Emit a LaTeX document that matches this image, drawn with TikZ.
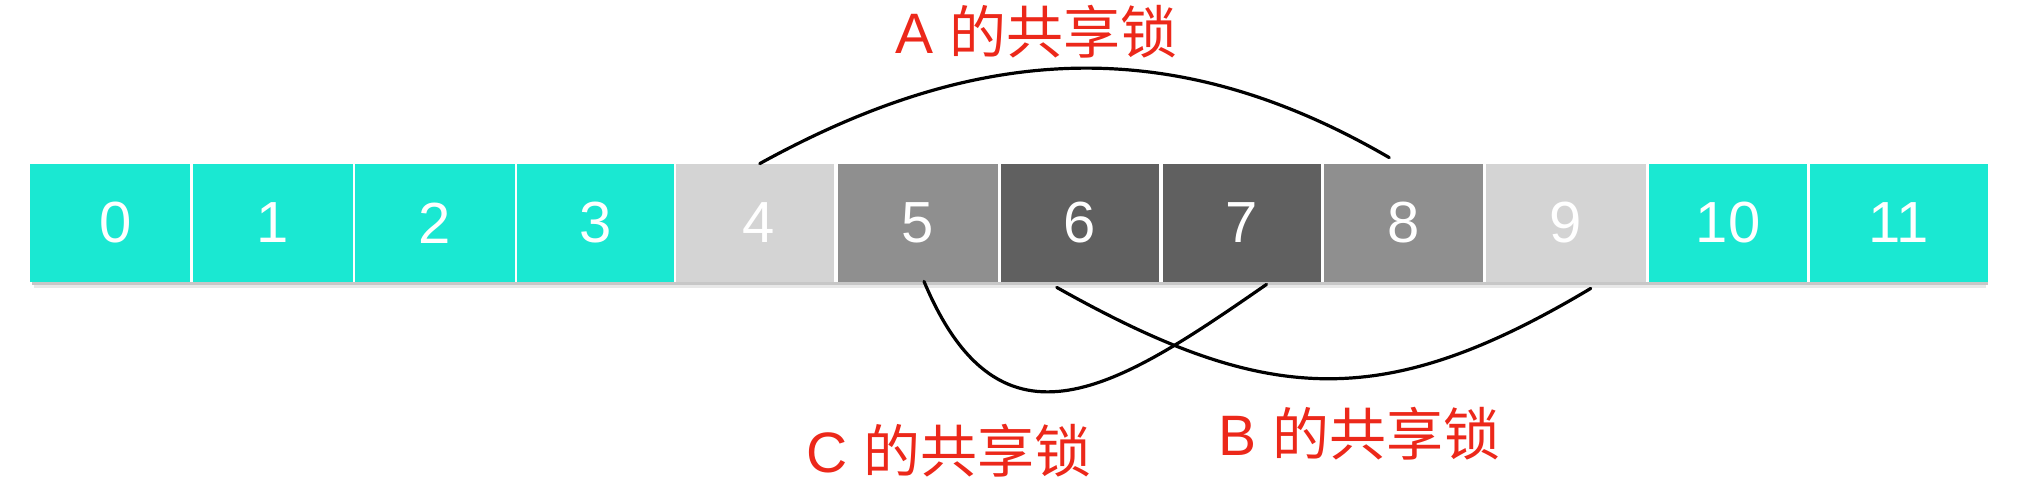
\documentclass[tikz,border=0pt]{standalone}
\usepackage{fontspec}
\setmainfont{Liberation Sans}
\newfontfamily\cjk{Noto Sans CJK SC}
\usetikzlibrary{calc}
\definecolor{tealc}{RGB}{26,232,210}
\definecolor{lgray}{RGB}{212,212,212}
\definecolor{mgray}{RGB}{143,143,143}
\definecolor{dgray}{RGB}{96,96,96}
\definecolor{redc}{RGB}{236,40,26}
\newcommand\mycell[5]{\node[cellbox,fill=#4,minimum width={0.5pt*(#3-#2)}] (#1) at ({(#2+#3)/2},223) {#5};}
\begin{document}
\begin{tikzpicture}[x=0.5pt,y=-0.5pt,
  cellbox/.style={rectangle, inner sep=0pt, minimum height=59pt, text=white, font=\fontsize{29}{29}\selectfont},
  lockarc/.style={line width=1.6pt, black, line cap=round},
  locklabel/.style={text=redc, inner sep=0pt, anchor=base west, font=\fontsize{28.5}{31}\selectfont}]
\useasboundingbox (0,0) rectangle (2036,484);
% soft shadow under the bar
\fill[black!22] (32,282) rectangle (1988,285);
\fill[black!9] (34,285) rectangle (1986,288);
% cells
\mycell{c0}{30}{190}{tealc}{\hspace*{6pt}0}
\mycell{c1}{192.5}{352.5}{tealc}{1}
\mycell{c2}{354.5}{515}{tealc}{2}
\mycell{c3}{517}{674}{tealc}{3}
\mycell{c4}{675.5}{834}{lgray}{\hspace*{4pt}4}
\mycell{c5}{838}{998}{mgray}{5}
\mycell{c6}{1000.5}{1159}{dgray}{6}
\mycell{c7}{1162.5}{1320.5}{dgray}{7}
\mycell{c8}{1323.5}{1483}{mgray}{8}
\mycell{c9}{1485.5}{1646}{lgray}{9}
\mycell{c10}{1649}{1807}{tealc}{10}
\mycell{c11}{1810}{1988}{tealc}{11}
% lock arcs
\draw[lockarc] ($(c4.north)+(5,0)$) .. controls (975,45) and (1170,30) .. ($(c8.north)+(-14,-6)$);
\draw[lockarc] ($(c5.south)+(6,-1)$) .. controls (1001,465) and (1119,386.6) .. ($(c7.south)+(25,2)$);
\draw[lockarc] ($(c6.south)+(-23,5)$) .. controls (1266,405) and (1382,413) .. ($(c9.south)+(25,6)$);
% labels
\node[locklabel] (la) at (895,53.5) {A {\cjk 的共享锁}};
\node[locklabel] (lc) at (806,472) {C {\cjk 的共享锁}};
\node[locklabel] (lb) at (1218,455) {B {\cjk 的共享锁}};
\end{tikzpicture}
\end{document}
